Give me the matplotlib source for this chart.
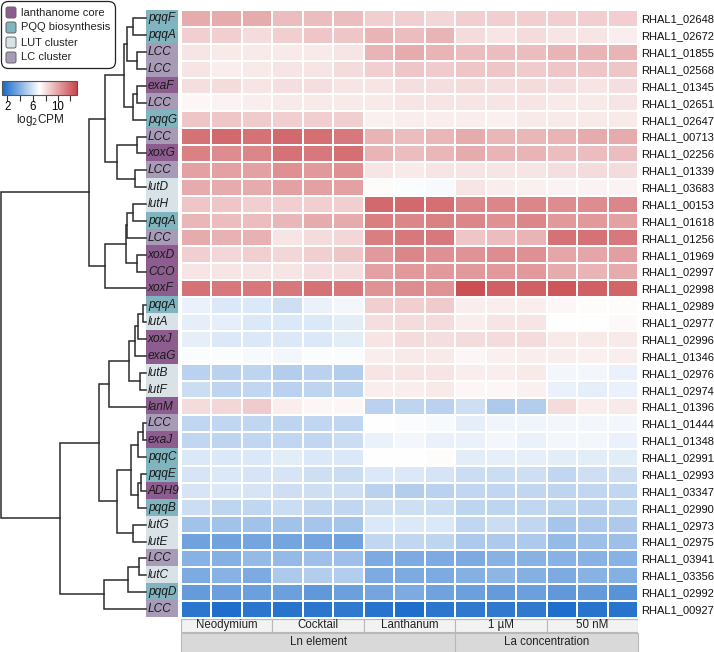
import numpy as np
import matplotlib
matplotlib.use("Agg")
import matplotlib.pyplot as plt
from matplotlib.colors import LinearSegmentedColormap, TwoSlopeNorm, ListedColormap
from matplotlib.patches import FancyBboxPatch, Rectangle
from matplotlib.cm import ScalarMappable

plt.rcParams['font.family'] = ['Liberation Sans', 'DejaVu Sans']

# ---- data ----
genes = ["pqqF", "pqqA", "LCC", "LCC", "exaF", "LCC", "pqqG", "LCC", "xoxG", "LCC",
         "lutD", "lutH", "pqqA", "LCC", "xoxD", "CCO", "xoxF", "pqqA", "lutA", "xoxJ",
         "exaG", "lutB", "lutF", "lanM", "LCC", "exaJ", "pqqC", "pqqE", "ADH9", "pqqB",
         "lutG", "lutE", "LCC", "lutC", "pqqD", "LCC"]
gene_ids = ["02648", "02672", "01855", "02568", "01345", "02651", "02647", "00713", "02256",
            "01339", "03683", "00153", "01618", "01256", "01969", "02997", "02998", "02989",
            "02977", "02996", "01346", "02976", "02974", "01396", "01444", "01348", "02991",
            "02993", "03347", "02990", "02973", "02975", "03941", "03356", "02992", "00927"]
# 0 lanthanome core, 1 PQQ biosynthesis, 2 LUT cluster, 3 LC cluster
gene_group = [1, 1, 3, 3, 0, 3, 1, 3, 0, 3,
              2, 2, 1, 3, 0, 0, 0, 1, 2, 0,
              0, 2, 2, 0, 3, 0, 1, 1, 0, 1,
              2, 2, 3, 2, 1, 3]
group_names = ["lanthanome core", "PQQ biosynthesis", "LUT cluster", "LC cluster"]
group_colors = ["#8e5d8f", "#80b4be", "#d8e2e7", "#a89bb8"]

conditions = ["Neodymium", "Cocktail", "Lanthanum", "1 µM", "50 nM"]
replicates = 3
condition_sets = ["Ln element", "La concentration"]
conditions_per_set = [3, 2]

log2cpm = np.array([
    [9.8, 9.8, 9.8, 9.2, 9.2, 9.2, 8.6, 8.6, 8.4, 8.6, 8.6, 8.6, 8.6, 8.6, 8.6],
    [8.6, 8.6, 8.2, 8.6, 8.9, 8.9, 9.5, 9.2, 9.5, 8.2, 7.9, 8.2, 7.9, 7.9, 7.6],
    [7.9, 7.7, 7.7, 7.7, 7.7, 7.9, 9.5, 9.8, 9.5, 9.2, 9.2, 9.2, 9.5, 9.5, 9.5],
    [7.9, 7.6, 7.7, 7.9, 7.9, 8.2, 8.6, 8.9, 8.7, 8.9, 8.9, 8.7, 8.9, 8.9, 8.9],
    [8.1, 8.2, 7.9, 8.1, 8.1, 7.9, 7.9, 8.1, 8.1, 8.2, 8.1, 8.2, 8.1, 7.9, 8.1],
    [7.3, 7.4, 7.6, 7.7, 7.7, 7.7, 7.7, 7.9, 7.9, 7.9, 7.9, 7.9, 7.7, 7.7, 7.9],
    [8.9, 8.9, 8.7, 8.6, 8.6, 8.6, 7.5, 7.6, 7.6, 7.6, 7.5, 7.7, 7.7, 7.7, 7.7],
    [11.7, 12.0, 11.7, 12.0, 11.8, 11.5, 9.5, 9.2, 9.4, 9.8, 9.4, 9.4, 9.5, 9.8, 9.8],
    [11.2, 10.8, 11.0, 11.7, 11.5, 11.8, 9.5, 9.2, 9.4, 9.8, 9.5, 9.5, 9.2, 9.2, 9.2],
    [10.1, 10.1, 10.1, 10.7, 10.4, 10.7, 7.9, 7.7, 7.9, 7.9, 7.9, 7.9, 8.1, 8.2, 8.2],
    [9.8, 9.8, 9.8, 10.1, 10.1, 10.1, 7.1, 6.9, 6.8, 7.9, 7.6, 7.5, 7.4, 7.4, 7.4],
    [8.9, 8.9, 8.6, 8.6, 8.6, 8.6, 12.0, 12.0, 11.8, 11.0, 11.0, 11.0, 10.8, 10.8, 11.0],
    [9.4, 9.2, 9.2, 9.4, 9.8, 9.8, 11.3, 11.0, 11.2, 11.0, 10.7, 11.0, 10.4, 10.4, 10.1],
    [9.8, 9.6, 9.6, 7.9, 8.2, 8.4, 11.3, 11.5, 11.5, 8.9, 9.2, 9.5, 11.7, 11.7, 11.5],
    [8.6, 8.4, 8.6, 8.4, 8.6, 8.9, 10.4, 11.0, 10.7, 10.6, 10.8, 10.7, 10.0, 10.0, 10.2],
    [7.9, 7.9, 7.9, 7.9, 8.1, 8.1, 10.1, 10.4, 10.4, 10.4, 10.4, 10.4, 9.8, 9.5, 9.8],
    [11.7, 11.5, 11.5, 11.5, 11.7, 11.5, 10.6, 10.8, 10.6, 12.9, 12.3, 12.3, 12.6, 12.3, 12.1],
    [6.5, 6.1, 6.1, 5.8, 6.5, 6.7, 8.6, 8.6, 8.7, 7.6, 7.6, 7.6, 7.3, 7.1, 7.1],
    [6.4, 6.4, 6.1, 6.1, 6.1, 6.3, 8.1, 8.2, 8.2, 7.6, 7.9, 7.9, 7.0, 7.0, 7.2],
    [6.4, 6.1, 6.1, 6.1, 6.1, 6.3, 7.9, 8.2, 8.1, 8.2, 8.2, 8.2, 7.7, 7.7, 7.7],
    [6.9, 6.9, 6.8, 6.7, 6.9, 6.9, 7.6, 7.7, 7.7, 7.3, 7.5, 7.6, 7.6, 7.5, 7.6],
    [5.3, 5.3, 5.4, 5.1, 5.3, 5.1, 7.9, 7.9, 7.9, 7.6, 7.6, 7.7, 6.7, 6.7, 6.5],
    [5.7, 5.4, 5.5, 5.3, 5.4, 5.4, 7.6, 7.6, 7.7, 7.3, 7.3, 7.5, 6.5, 6.4, 6.5],
    [8.2, 8.4, 8.7, 7.6, 7.3, 7.3, 5.3, 5.4, 5.3, 5.8, 5.0, 5.1, 8.2, 7.6, 7.7],
    [5.5, 5.5, 5.5, 5.4, 5.5, 5.5, 7.0, 6.9, 6.8, 6.4, 6.6, 6.6, 6.7, 6.7, 6.7],
    [5.5, 5.4, 5.5, 5.5, 5.5, 5.7, 6.5, 6.7, 6.5, 6.5, 6.7, 6.5, 6.7, 6.7, 6.5],
    [6.1, 6.1, 6.1, 6.3, 6.1, 6.1, 7.0, 7.0, 7.1, 6.3, 6.4, 6.4, 6.3, 6.3, 6.3],
    [6.0, 6.1, 6.0, 6.0, 5.8, 5.7, 6.1, 6.1, 6.0, 5.7, 5.7, 5.8, 5.5, 5.8, 5.8],
    [6.0, 6.1, 6.0, 5.8, 5.8, 5.8, 5.3, 5.1, 5.3, 5.5, 5.5, 5.5, 5.4, 5.5, 5.5],
    [5.7, 5.4, 5.5, 5.7, 5.5, 5.5, 5.8, 5.8, 5.7, 5.4, 5.4, 5.5, 5.4, 5.3, 5.4],
    [4.7, 4.7, 4.7, 4.7, 4.8, 4.8, 6.1, 6.1, 6.1, 5.5, 5.7, 5.5, 4.8, 5.0, 5.0],
    [3.5, 3.5, 3.6, 3.6, 3.6, 3.5, 5.5, 5.5, 5.4, 5.0, 5.0, 5.0, 4.4, 4.6, 4.6],
    [4.1, 4.0, 4.4, 4.4, 4.6, 4.6, 3.8, 3.8, 3.8, 3.8, 4.1, 4.1, 4.1, 4.1, 4.1],
    [3.8, 4.1, 3.8, 5.0, 5.1, 5.1, 3.8, 3.8, 3.8, 4.0, 4.2, 4.0, 3.8, 4.1, 4.0],
    [3.2, 3.4, 3.4, 3.4, 3.1, 3.4, 3.6, 3.8, 3.5, 3.4, 3.2, 3.4, 3.1, 3.2, 2.9],
    [1.8, 1.5, 1.8, 1.7, 1.8, 1.9, 1.7, 1.5, 1.8, 1.9, 1.9, 1.9, 1.5, 1.7, 1.7],
])

# row dendrogram, nodes are (left, right, merge height); ints are row indices
clu_a = ((0, 1, 13), (2, 3, 9), 19)
clu_b = ((4, 5, 9), 6, 13)
clu_c = ((7, 8, 9), (9, 10, 11), 29)
clu_d = (((11, 12, 13), 13, 19), (14, 15, 9), 20)
red_top = ((clu_a, clu_b, 22), clu_c, 41)
red_bot = (clu_d, 16, 41)
clu_e = (((((17, 18, 3), 19, 8), 20, 11), (21, 22, 6), 17), 23, 37)
clu_f = ((((24, 25, 3), 26, 8), ((27, 28, 5), 29, 8), 15), (30, 31, 13), 29)
clu_g = (((32, 33, 7), 34, 18), 35, 42)
dendro = ((red_top, red_bot, 57), ((clu_e, clu_f, 47), clu_g, 86), 145)

cbar_ticks = [2, 4, 6, 8, 10, 12]
cbar_ticklabels = ["2", "", "6", "", "10", ""]

# ---- layout (pixels) ----
W, H = 714, 652
fig = plt.figure(figsize=(W / 100, H / 100), dpi=100)


def px_axes(x0, y0, x1, y1):
    return fig.add_axes([x0 / W, 1 - y1 / H, (x1 - x0) / W, (y1 - y0) / H])


top, bottom = 10, 617.5
n_rows, n_cols = log2cpm.shape

cmap = LinearSegmentedColormap.from_list("bwr2", ["#1467c8", "#ffffff", "#c8464a"])
norm = TwoSlopeNorm(vmin=1.2, vcenter=7.0, vmax=13.2)

# heatmap
ax = px_axes(181, top, 638, bottom)
ax.pcolormesh(log2cpm, cmap=cmap, norm=norm, edgecolors="white", linewidth=1.1)
ax.set_xlim(0, n_cols)
ax.set_ylim(n_rows, 0)
ax.set_xticks([])
ax.yaxis.tick_right()
ax.set_yticks(np.arange(n_rows) + 0.5)
ax.set_yticklabels(["RHAL1_" + g for g in gene_ids], fontsize=8, color="#111111")
ax.tick_params(axis="y", length=0, pad=2)
for s in ax.spines.values():
    s.set_visible(False)

# gene group annotation column
axa = px_axes(146, top, 178, bottom)
axa.imshow(np.array(gene_group).reshape(-1, 1), cmap=ListedColormap(group_colors),
           vmin=-0.5, vmax=3.5, aspect="auto", interpolation="nearest",
           extent=(0, 1, n_rows, 0))
for i, g in enumerate(genes):
    axa.text(0.06, i + 0.5, g, style="italic", fontsize=8.6, va="center", ha="left",
             color="#1a1a1a", clip_on=False)
axa.set_xlim(0, 1)
axa.set_ylim(n_rows, 0)
axa.axis("off")

# dendrogram
axd = px_axes(0, top, 146, bottom)


def draw_node(node):
    if isinstance(node, int):
        return node + 0.5, 0
    left, right, h = node
    yl, hl = draw_node(left)
    yr, hr = draw_node(right)
    axd.plot([hl, h, h, hr], [yl, yl, yr, yr], color="#2b2b2b", lw=1.1,
             solid_joinstyle="miter", clip_on=False)
    return (yl + yr) / 2, h


draw_node(dendro)
axd.set_xlim(146, 0)
axd.set_ylim(n_rows, 0)
axd.axis("off")

# bottom column annotation
axb = px_axes(181, 618.5, 638, 652)
axb.set_xlim(0, n_cols)
axb.set_ylim(2.2, 0)
axb.axis("off")
for k, c in enumerate(conditions):
    x0 = k * replicates
    axb.add_patch(Rectangle((x0, 0.02), replicates, 0.86, facecolor="#f2f2f2",
                            edgecolor="#b8b8b8", lw=0.8))
    axb.text(x0 + replicates / 2, 0.45, c, ha="center", va="center", fontsize=8.3,
             color="#222222")
start = 0
for name, n in zip(condition_sets, conditions_per_set):
    w = n * replicates
    axb.add_patch(Rectangle((start, 0.95), w, 1.3, facecolor="#d9d9d9",
                            edgecolor="#b8b8b8", lw=0.8, clip_on=False))
    axb.text(start + w / 2, 1.55, name, ha="center", va="center", fontsize=8.3,
             color="#222222")
    start += w

# legend
axl = px_axes(0, 0, 120, 72)
axl.set_xlim(0, 120)
axl.set_ylim(72, 0)
axl.axis("off")
axl.add_patch(FancyBboxPatch((1.5, 1.5), 114, 67, boxstyle="round,pad=0,rounding_size=7",
                             facecolor="white", edgecolor="#222222", lw=0.9))
for k, (name, col) in enumerate(zip(group_names, group_colors)):
    y = 12.5 + k * 15
    axl.add_patch(FancyBboxPatch((6, y - 5.5), 10, 11, boxstyle="round,pad=0,rounding_size=2",
                                 facecolor=col, edgecolor="#666666", lw=0.7))
    axl.text(21, y, name, va="center", ha="left", fontsize=8, color="#222222")

# colorbar
axc = px_axes(2, 81, 77, 95)
cb = fig.colorbar(ScalarMappable(norm=norm, cmap=cmap), cax=axc, orientation="horizontal")
cb.set_ticks(cbar_ticks)
cb.set_ticklabels(cbar_ticklabels)
cb.ax.tick_params(length=4, width=0.8, pad=0.5, labelsize=8.3, color="#333333")
cb.outline.set_edgecolor("#555555")
cb.outline.set_linewidth(0.8)
fig.text(40 / W, 1 - 120 / H, "log$_2$CPM", ha="center", va="center", fontsize=8.5,
         color="#222222")

fig.savefig("out.png", dpi=100)
